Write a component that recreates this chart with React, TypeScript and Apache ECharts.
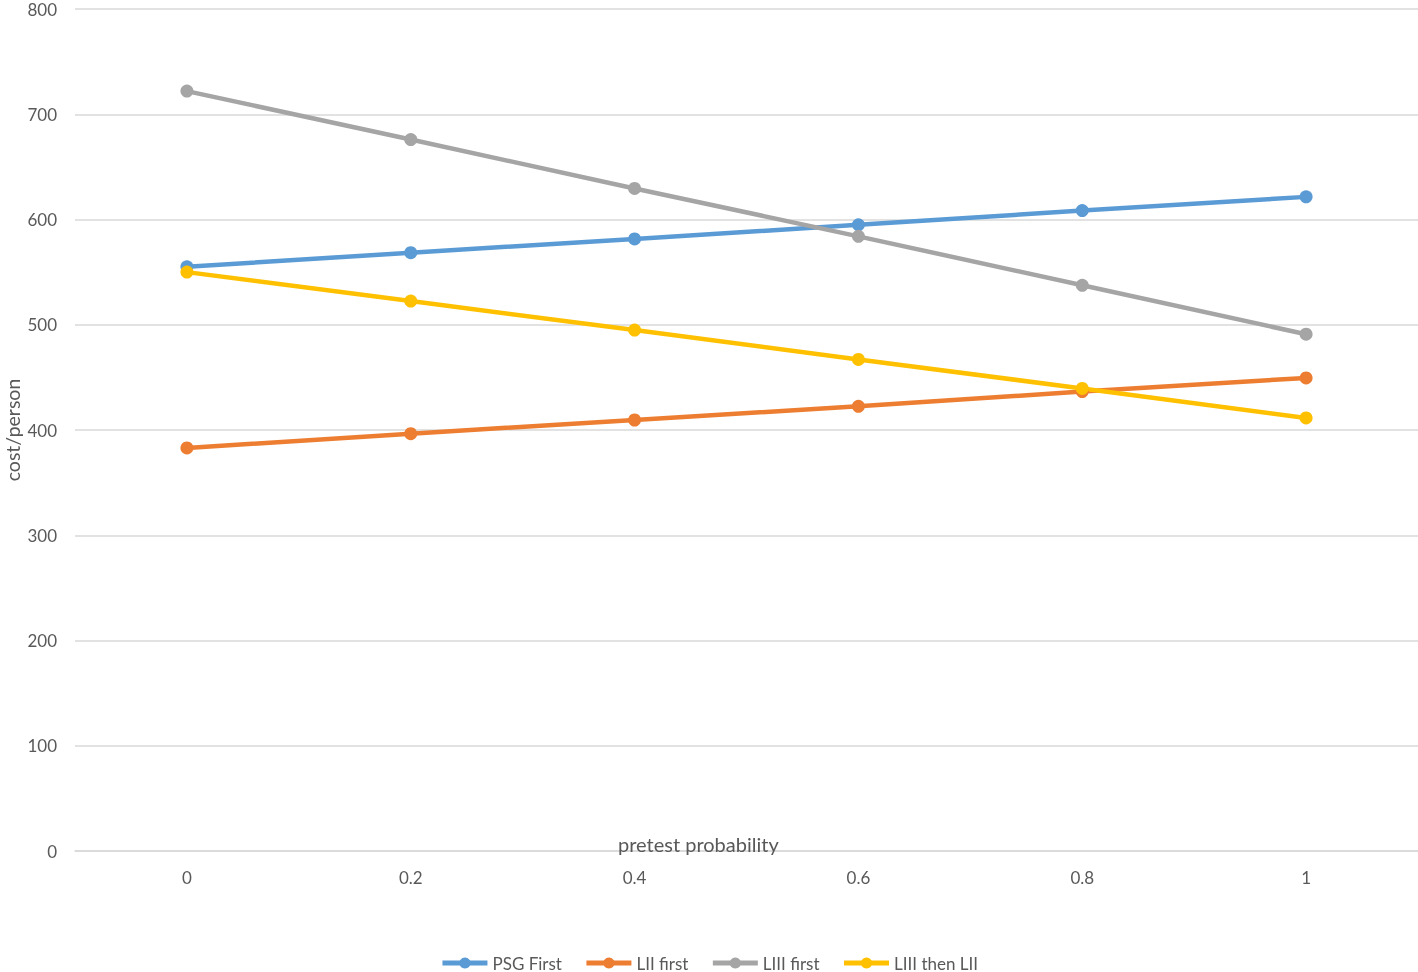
import React, { useEffect, useRef } from "react";
import * as echarts from "echarts";

const categories = ["0", "0.2", "0.4", "0.6", "0.8", "1"];
const psgFirst = [555, 568.5, 581.5, 595, 608.5, 621.5];
const liiFirst = [383, 396.5, 409.5, 422.5, 436.5, 449.5];
const liiiFirst = [722, 676, 629.5, 584, 537.5, 491];
const liiiThenLii = [550, 522.5, 495, 467, 439.5, 411.5];
const seriesNames = ["PSG First", "LII first", "LIII first", "LIII then LII"];
const colors = ["#5B9BD5", "#ED7D31", "#A5A5A5", "#FFC000"];
const xAxisTitle = "pretest probability";
const yAxisTitle = "cost/person";

const FONT = "Lato, 'Open Sans', sans-serif";

export default function App() {
  const ref = useRef<HTMLDivElement>(null);
  useEffect(() => {
    if (!ref.current) return;
    const chart = echarts.init(ref.current, undefined, { renderer: "svg" });
    const datas = [psgFirst, liiFirst, liiiFirst, liiiThenLii];
    chart.setOption({
      animation: false,
      textStyle: { fontFamily: FONT, color: "#595959" },
      grid: {
        left: 75,
        right: 0,
        top: 9,
        bottom: 121,
        containLabel: false,
        outerBoundsMode: "none",
      },
      legend: {
        bottom: 0,
        left: "center",
        padding: [0, 5, 0, 5],
        itemWidth: 45,
        itemHeight: 14,
        itemGap: 22,
        lineStyle: { width: 5 },
        textStyle: { fontFamily: FONT, fontSize: 17, color: "#595959", lineHeight: 18 },
        data: seriesNames,
      },
      xAxis: {
        type: "category",
        data: categories,
        boundaryGap: true,
        axisLine: { show: true, lineStyle: { color: "#d9d9d9", width: 1.5 } },
        axisTick: { show: false },
        axisLabel: { fontFamily: FONT, fontSize: 17, color: "#595959", margin: 18 },
        splitLine: { show: false },
      },
      yAxis: {
        type: "value",
        min: 0,
        max: 800,
        interval: 100,
        axisLine: { show: false },
        axisTick: { show: false },
        axisLabel: {
          fontFamily: FONT,
          fontSize: 17,
          color: "#595959",
          margin: 18,
          lineHeight: 14,
        },
        splitLine: { lineStyle: { color: "#d9d9d9", width: 1.5 } },
      },
      graphic: [
        {
          type: "text",
          left: 618,
          top: 834,
          style: {
            text: xAxisTitle,
            fontFamily: FONT,
            fontSize: 20,
            fill: "#595959",
          },
          z: 10,
        },
        {
          type: "text",
          x: 12,
          y: 430,
          rotation: Math.PI / 2,
          style: {
            text: yAxisTitle,
            fontFamily: FONT,
            fontSize: 19.5,
            fill: "#595959",
            align: "center",
            verticalAlign: "middle",
          },
          z: 10,
        },
      ],
      series: seriesNames.map((name, i) => ({
        name,
        type: "line",
        data: datas[i],
        symbol: "circle",
        symbolSize: 13,
        lineStyle: { width: 4.5, color: colors[i] },
        itemStyle: { color: colors[i] },
      })),
    });
    return () => chart.dispose();
  }, []);
  return (
    <div
      ref={ref}
      style={{ position: "fixed", left: 0, top: 0, width: 1418, height: 972 }}
    />
  );
}
